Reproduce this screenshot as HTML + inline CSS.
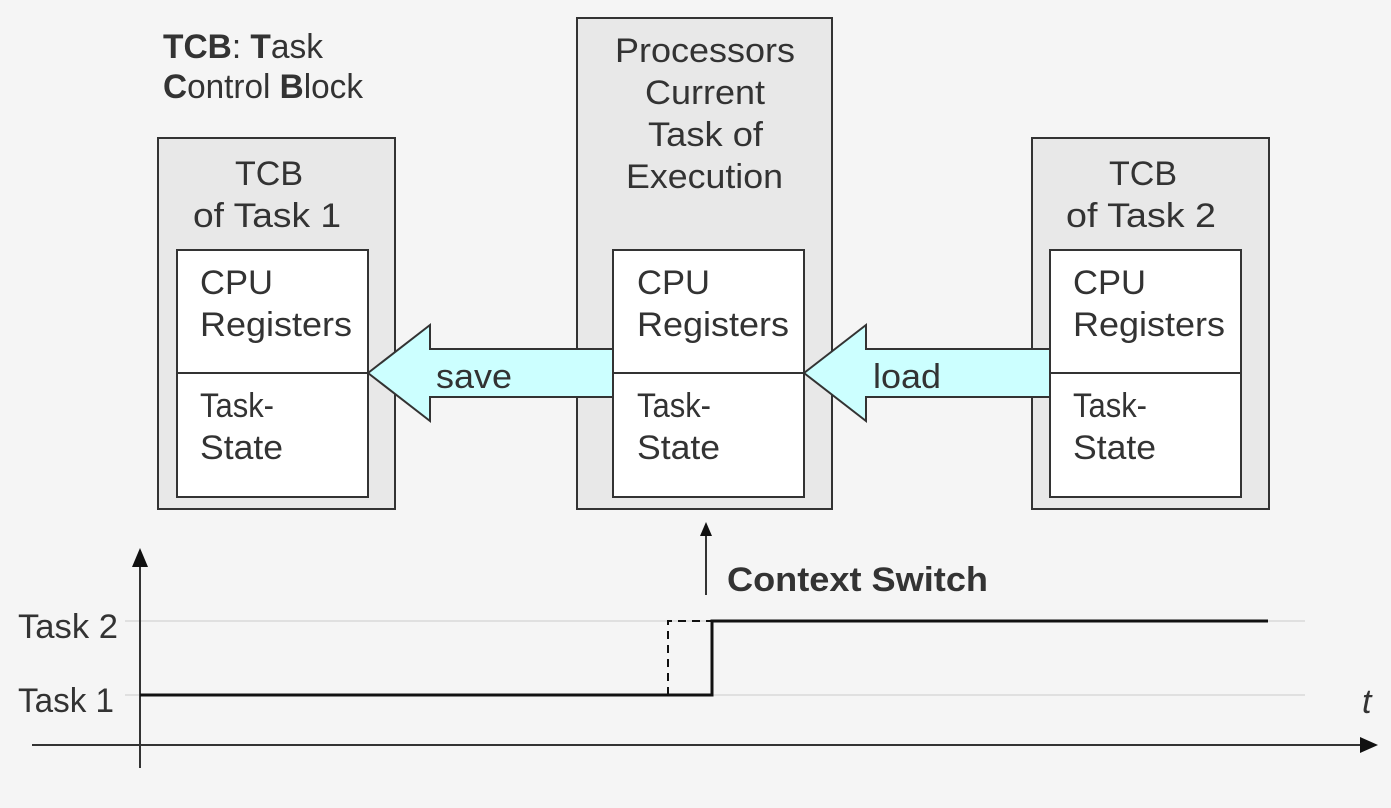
<!DOCTYPE html>
<html><head><meta charset="utf-8"><style>
body{margin:0;background:#f5f5f5;}
svg{display:block}
text{font-family:"Liberation Sans",Arial,sans-serif;fill:#333;font-size:34px}
</style></head><body>
<svg width="1391" height="808" viewBox="0 0 1391 808">
<rect width="1391" height="808" fill="#f5f5f5"/>
<g stroke="#333" stroke-width="2">
<rect x="158" y="138" width="237" height="371" fill="#e8e8e8"/>
<rect x="577" y="18" width="255" height="491" fill="#e8e8e8"/>
<rect x="1032" y="138" width="237" height="371" fill="#e8e8e8"/>
<rect x="177" y="250" width="191" height="247" fill="#fff"/>
<rect x="613" y="250" width="191" height="247" fill="#fff"/>
<rect x="1050" y="250" width="191" height="247" fill="#fff"/>
<line x1="177" y1="373" x2="368" y2="373"/>
<line x1="613" y1="373" x2="804" y2="373"/>
<line x1="1050" y1="373" x2="1241" y2="373"/>
<polygon points="368,373 430,325 430,349 613,349 613,397 430,397 430,421" fill="#ccffff"/>
<polygon points="804,373 866,325 866,349 1050,349 1050,397 866,397 866,421" fill="#ccffff"/>
</g>
<g lengthAdjust="spacingAndGlyphs">
<text x="163" y="58" font-size="29" textLength="160" lengthAdjust="spacingAndGlyphs"><tspan font-weight="bold">TCB</tspan>: <tspan font-weight="bold">T</tspan>ask</text>
<text x="163" y="98" font-size="29" textLength="200" lengthAdjust="spacingAndGlyphs"><tspan font-weight="bold">C</tspan>ontrol <tspan font-weight="bold">B</tspan>lock</text>
<text x="235" y="185" textLength="68" lengthAdjust="spacingAndGlyphs">TCB</text>
<text x="193" y="227" textLength="148" lengthAdjust="spacingAndGlyphs">of Task 1</text>
<text x="1109" y="185" textLength="68" lengthAdjust="spacingAndGlyphs">TCB</text>
<text x="1066" y="227" textLength="150" lengthAdjust="spacingAndGlyphs">of Task 2</text>
<text x="615" y="62" textLength="180" lengthAdjust="spacingAndGlyphs">Processors</text>
<text x="645" y="104" textLength="120" lengthAdjust="spacingAndGlyphs">Current</text>
<text x="648" y="146" textLength="115" lengthAdjust="spacingAndGlyphs">Task of</text>
<text x="626" y="188" textLength="157" lengthAdjust="spacingAndGlyphs">Execution</text>
<text x="200" y="294" textLength="73" lengthAdjust="spacingAndGlyphs">CPU</text><text x="200" y="336" textLength="152" lengthAdjust="spacingAndGlyphs">Registers</text><text x="200" y="417" textLength="74" lengthAdjust="spacingAndGlyphs">Task-</text><text x="200" y="459" textLength="83" lengthAdjust="spacingAndGlyphs">State</text>
<text x="637" y="294" textLength="73" lengthAdjust="spacingAndGlyphs">CPU</text><text x="637" y="336" textLength="152" lengthAdjust="spacingAndGlyphs">Registers</text><text x="637" y="417" textLength="74" lengthAdjust="spacingAndGlyphs">Task-</text><text x="637" y="459" textLength="83" lengthAdjust="spacingAndGlyphs">State</text>
<text x="1073" y="294" textLength="73" lengthAdjust="spacingAndGlyphs">CPU</text><text x="1073" y="336" textLength="152" lengthAdjust="spacingAndGlyphs">Registers</text><text x="1073" y="417" textLength="74" lengthAdjust="spacingAndGlyphs">Task-</text><text x="1073" y="459" textLength="83" lengthAdjust="spacingAndGlyphs">State</text>
<text x="436" y="388" textLength="76" lengthAdjust="spacingAndGlyphs">save</text>
<text x="873" y="388" textLength="68" lengthAdjust="spacingAndGlyphs">load</text>
</g>
<g stroke="#e0e0e0" stroke-width="2">
<line x1="125" y1="621" x2="1305" y2="621"/><line x1="125" y1="695" x2="1305" y2="695"/>
</g>
<g stroke="#333" stroke-width="2" fill="none">
<line x1="140" y1="565" x2="140" y2="768"/>
<line x1="32" y1="745" x2="1362" y2="745"/>
<line x1="706" y1="595" x2="706" y2="535"/>
</g>
<polygon points="140,548 132,567 148,567" fill="#111"/>
<polygon points="1378,745 1360,737 1360,753" fill="#111"/>
<polygon points="706,522 700,536 712,536" fill="#111"/>
<polyline points="140,695 712,695 712,621 1268,621" stroke="#111" stroke-width="3" fill="none"/>
<polyline points="668,695 668,621 712,621" stroke="#111" stroke-width="2" stroke-dasharray="8,6" fill="none"/>
<text x="727" y="591" font-weight="bold" font-size="32" textLength="261" lengthAdjust="spacingAndGlyphs">Context Switch</text>
<text x="18" y="638" font-size="32" textLength="100" lengthAdjust="spacingAndGlyphs">Task 2</text>
<text x="18" y="712" font-size="32" textLength="96" lengthAdjust="spacingAndGlyphs">Task 1</text>
<text x="1362" y="713" font-style="italic" font-size="30">t</text>
</svg>
</body></html>
